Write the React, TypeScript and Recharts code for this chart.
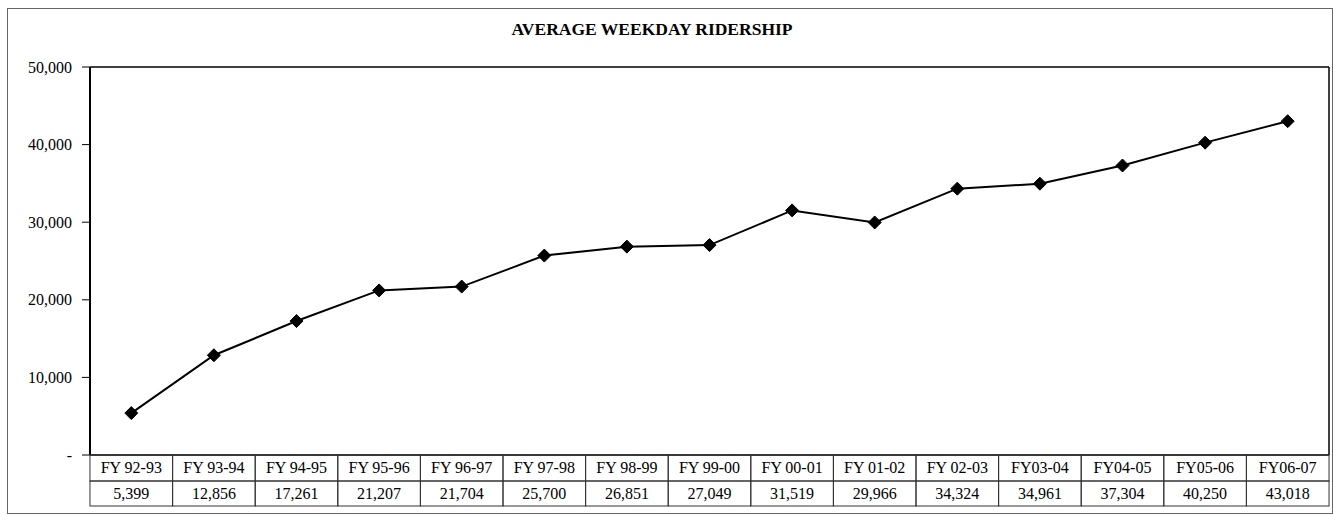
import React from "react";
import { LineChart, Line, XAxis, YAxis } from "recharts";

const categories = [
  "FY 92-93", "FY 93-94", "FY 94-95", "FY 95-96", "FY 96-97", "FY 97-98", "FY 98-99",
  "FY 99-00", "FY 00-01", "FY 01-02", "FY 02-03", "FY03-04", "FY04-05", "FY05-06", "FY06-07",
];
const ridership = [
  5399, 12856, 17261, 21207, 21704, 25700, 26851, 27049, 31519, 29966, 34324, 34961, 37304, 40250, 43018,
];
const yTicks = [0, 10000, 20000, 30000, 40000, 50000];
const title = "AVERAGE WEEKDAY RIDERSHIP";

const data = categories.map((c, i) => ({ name: c, value: ridership[i] }));

const W = 1333;
const H = 516;
const LEFT = 90;
const RIGHT = 3;
const TOP = 66;
const XAXIS_H = 61;
const PLOT_W = W - LEFT - RIGHT;
const CELL_W = PLOT_W / categories.length;
const ROW1 = 26;
const ROW2 = 25;
const FONT = "'Liberation Serif', 'Times New Roman', serif";

const fmt = (v: number) => (v === 0 ? "-" : v.toLocaleString("en-US"));

const TableTick = (props: any) => {
  const { x, y, payload, index } = props;
  const left = x - CELL_W / 2;
  const val = ridership[index];
  return (
    <g>
      <rect x={left} y={y} width={CELL_W} height={ROW1} fill="none" stroke="#333" strokeWidth={1} />
      <rect x={left} y={y + ROW1} width={CELL_W} height={ROW2} fill="none" stroke="#333" strokeWidth={1} />
      <text x={x} y={y + 18} textAnchor="middle" fontFamily={FONT} fontSize={16} fill="#000">
        {payload.value}
      </text>
      <text x={x} y={y + ROW1 + 18} textAnchor="middle" fontFamily={FONT} fontSize={16} fill="#000">
        {typeof val === "number" ? val.toLocaleString("en-US") : ""}
      </text>
    </g>
  );
};

const Diamond = (props: any) => {
  const { cx, cy, index } = props;
  if (cx == null || cy == null) return <g key={`d-${index}`} />;
  const r = 6.5;
  return (
    <path
      key={`d-${index}`}
      d={`M${cx},${cy - r} L${cx + r},${cy} L${cx},${cy + r} L${cx - r},${cy} Z`}
      fill="#000"
      stroke="#000"
    />
  );
};

export default function App() {
  return (
    <div style={{ position: "absolute", left: 0, top: 0, width: W, height: H, background: "#fff" }}>
      <div
        style={{
          position: "absolute",
          left: 7,
          top: 8,
          width: 1324,
          height: 504,
          border: "1px solid #666",
        }}
      />
      <div
        style={{
          position: "absolute",
          left: 0,
          top: 19,
          width: 1304,
          textAlign: "center",
          fontFamily: FONT,
          fontWeight: "bold",
          fontSize: 17.5,
          color: "#000",
        }}
      >
        {title}
      </div>
      <div style={{ position: "absolute", left: 0, top: 0 }}>
        <LineChart
          width={W}
          height={H}
          data={data}
          margin={{ top: TOP, right: RIGHT, left: 0, bottom: 0 }}
        >
          <XAxis
            dataKey="name"
            xAxisId="bottom"
            scale="band"
            height={XAXIS_H}
            axisLine={{ stroke: "#000", strokeWidth: 1.5 }}
            tickLine={false}
            tickSize={0}
            tickMargin={0}
            interval={0}
            tick={<TableTick />}
          />
          <XAxis
            dataKey="name"
            xAxisId="top"
            orientation="top"
            scale="band"
            height={1}
            axisLine={{ stroke: "#000", strokeWidth: 1.5 }}
            tick={false}
            tickLine={false}
          />
          <YAxis
            yAxisId="left"
            width={LEFT}
            domain={[0, 50000]}
            ticks={yTicks}
            tickFormatter={fmt}
            axisLine={{ stroke: "#000", strokeWidth: 2 }}
            tickLine={{ stroke: "#000" }}
            tickSize={8}
            tickMargin={10}
            tick={{ fontFamily: FONT, fontSize: 16, fill: "#000" }}
          />
          <YAxis
            yAxisId="right"
            orientation="right"
            width={1}
            domain={[0, 50000]}
            axisLine={{ stroke: "#000", strokeWidth: 1.5 }}
            tick={false}
            tickLine={false}
          />
          <Line
            xAxisId="bottom"
            yAxisId="left"
            type="linear"
            dataKey="value"
            stroke="#000"
            strokeWidth={2}
            dot={Diamond}
            activeDot={false}
            isAnimationActive={false}
          />
        </LineChart>
      </div>
    </div>
  );
}
